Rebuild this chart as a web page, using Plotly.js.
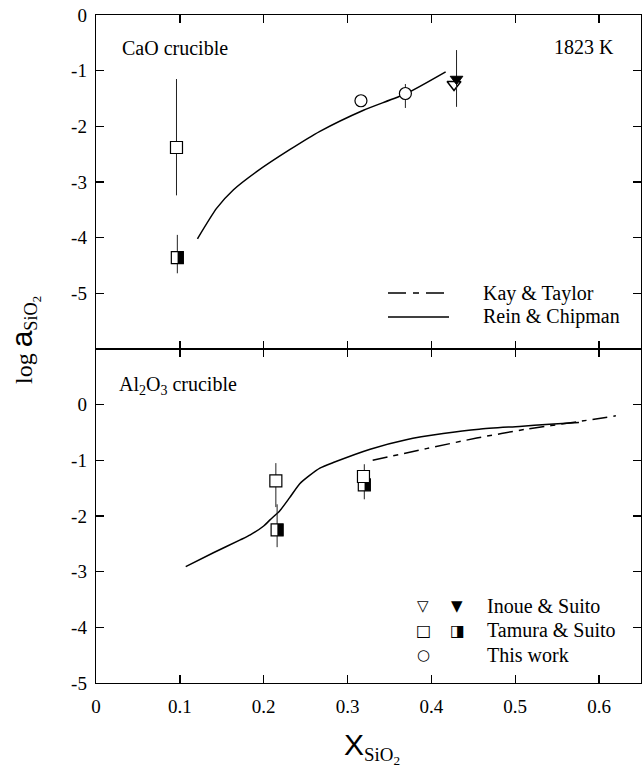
<!DOCTYPE html>
<html>
<head>
<meta charset="utf-8">
<script src="https://cdn.plot.ly/plotly-3.0.1.min.js"></script>
<style>html,body{margin:0;padding:0;background:#fff;}#chart{width:642px;height:769px;}</style>
</head>
<body>
<div id="chart"></div>
<script>
// ---------- data ----------
// Top panel: CaO crucible
const rcTopX = [0.121, 0.144, 0.164, 0.192, 0.231, 0.267, 0.319, 0.370, 0.417];
const rcTopY = [-4.02, -3.47, -3.14, -2.81, -2.42, -2.09, -1.71, -1.41, -1.02];

const tamOpenTopX = [0.096];
const tamOpenTopY = [-2.38];
const tamOpenTopUp = [1.23];
const tamOpenTopDn = [0.86];

const tamHalfTopX = [0.097];
const tamHalfTopY = [-4.36];
const tamHalfTopUp = [0.41];
const tamHalfTopDn = [0.28];

const thisWorkX = [0.316, 0.369];
const thisWorkY = [-1.54, -1.41];
const thisWorkUp = [0, 0.17];
const thisWorkDn = [0, 0.26];

const inoueOpenX = [0.427];
const inoueOpenY = [-1.25];
const inoueHalfX = [0.430];
const inoueHalfY = [-1.15];
const inoueHalfUp = [0.52];
const inoueHalfDn = [0.50];

// Bottom panel: Al2O3 crucible
const rcBotX = [0.107, 0.140, 0.172, 0.184, 0.200, 0.2075, 0.219, 0.231, 0.243, 0.254, 0.267, 0.283, 0.327, 0.370, 0.414, 0.457, 0.505, 0.541, 0.576];
const rcBotY = [-2.91, -2.66, -2.43, -2.34, -2.18, -2.07, -1.91, -1.67, -1.42, -1.28, -1.14, -1.04, -0.80, -0.63, -0.52, -0.44, -0.39, -0.35, -0.32];

const ktX = [0.330, 0.394, 0.454, 0.513, 0.573, 0.620];
const ktY = [-1.00, -0.79, -0.60, -0.44, -0.31, -0.20];

const tamOpenBotX = [0.2145, 0.319];
const tamOpenBotY = [-1.37, -1.29];
const tamOpenBotUp = [0.32, 0];
const tamOpenBotDn = [0.47, 0];

const tamHalfBotX = [0.216, 0.320];
const tamHalfBotY = [-2.25, -1.44];
const tamHalfBotUp = [0.46, 0.37];
const tamHalfBotDn = [0.31, 0.26];

const xTicks = [0, 0.1, 0.2, 0.3, 0.4, 0.5, 0.6];
const xTickText = ['0', '0.1', '0.2', '0.3', '0.4', '0.5', '0.6'];
const yTopTicks = [0, -1, -2, -3, -4, -5];
const yTopText = ['0', '-1', '-2', '-3', '-4', '-5'];
const yBotTicks = [0, -1, -2, -3, -4, -5];
const yBotText = ['0', '-1', '-2', '-3', '-4', '-5'];

// ---------- styling ----------
const SERIF = 'Liberation Serif, Times New Roman, serif';
const SANS = 'Liberation Sans, Arial, sans-serif';
const W = 642, H = 769;
const M = {l: 96, r: 1, t: 15, b: 86};
const plotW = W - M.l - M.r;
const xRange = [0, 0.65];
const halfShift = 3.25 / plotW * (xRange[1] - xRange[0]);  // pixel shift of black half
const SQ = 12;

function errs(up, dn) {
  return {type: 'data', symmetric: false, array: up, arrayminus: dn,
          color: '#222', thickness: 1, width: 0, visible: true};
}
function pts(x, y, xa, ya, marker, err) {
  const t = {x: x, y: y, xaxis: xa, yaxis: ya, mode: 'markers', marker: marker, showlegend: false, cliponaxis: false};
  if (err) t.error_y = err;
  return t;
}
const openSq = {symbol: 'square', size: SQ, color: 'white', line: {color: 'black', width: 1.2}};
const halfSqBlack = {symbol: 'line-ns', size: SQ / 1.4, color: 'black', line: {color: 'black', width: SQ / 2}};

const traces = [
  {x: rcTopX, y: rcTopY, xaxis: 'x', yaxis: 'y', mode: 'lines', line: {color: 'black', width: 1.5, shape: 'spline', smoothing: 0.6}, hoverinfo: 'skip', showlegend: false},
  pts(tamHalfTopX, tamHalfTopY, 'x', 'y', openSq, errs(tamHalfTopUp, tamHalfTopDn)),
  pts(tamOpenTopX, tamOpenTopY, 'x', 'y', openSq, errs(tamOpenTopUp, tamOpenTopDn)),
  pts(thisWorkX, thisWorkY, 'x', 'y', {symbol: 'circle', size: 12, color: 'white', line: {color: 'black', width: 1.2}}, errs(thisWorkUp, thisWorkDn)),
  pts(inoueOpenX, inoueOpenY, 'x', 'y', {symbol: 'triangle-down', size: 12, color: 'white', line: {color: 'black', width: 1.5}}),
  pts(inoueHalfX, inoueHalfY, 'x', 'y', {symbol: 'triangle-down', size: 11, color: 'black', line: {color: 'black', width: 1}}, errs(inoueHalfUp, inoueHalfDn)),
  pts(tamHalfTopX, tamHalfTopY, 'x3', 'y', halfSqBlack),

  {x: rcBotX, y: rcBotY, xaxis: 'x2', yaxis: 'y2', mode: 'lines', line: {color: 'black', width: 1.5, shape: 'spline', smoothing: 0.6}, hoverinfo: 'skip', showlegend: false},
  {x: ktX, y: ktY, xaxis: 'x2', yaxis: 'y2', mode: 'lines', line: {color: 'black', width: 1.5, dash: '15px,6px,5px,6px', shape: 'spline', smoothing: 0.5}, hoverinfo: 'skip', showlegend: false},
  pts(tamHalfBotX, tamHalfBotY, 'x2', 'y2', openSq, errs(tamHalfBotUp, tamHalfBotDn)),
  pts(tamHalfBotX, tamHalfBotY, 'x4', 'y2', halfSqBlack),
  pts(tamOpenBotX, tamOpenBotY, 'x5', 'y2', openSq, errs(tamOpenBotUp, tamOpenBotDn))
];

const axBase = {showline: true, linecolor: 'black', linewidth: 1.3, ticks: 'inside', ticklen: 8,
  tickwidth: 1.3, tickcolor: 'black', mirror: 'ticks', showgrid: false, zeroline: false,
  tickfont: {family: SERIF, size: 19, color: 'black'}, fixedrange: true};
const hiddenX = {visible: false, showgrid: false, zeroline: false, fixedrange: true, domain: [0, 1]};

function py(pixY) { return (H - M.b - pixY) / (H - M.t - M.b); }
function px(pixX) { return (pixX - M.l) / plotW; }

const ann = [];
function txt(t, x, y, xanchor, size, extra) {
  ann.push(Object.assign({text: t, x: x, y: y, xref: 'paper', yref: 'paper', xanchor: xanchor, yanchor: 'middle',
    showarrow: false, font: {family: SERIF, size: size, color: 'black'}}, extra || {}));
}
txt('CaO crucible', px(120), py(48), 'left', 20);
txt('1823 K', px(616), py(47), 'right', 20);
txt('Al<sub>2</sub>O<sub>3</sub> crucible', px(117), py(385), 'left', 20);
// top legend
txt('Kay &amp; Taylor', px(481), py(293), 'left', 20);
txt('Rein &amp; Chipman', px(481), py(317), 'left', 20);
// bottom legend
const GLY = 'DejaVu Sans, sans-serif';
txt('\u25BD', px(423), py(606), 'center', 15, {font: {family: GLY, size: 15, color: 'black'}});
txt('\u25BC', px(457), py(606), 'center', 15, {font: {family: GLY, size: 15, color: 'black'}});
txt('\u25A1', px(423), py(630), 'center', 16, {font: {family: GLY, size: 16, color: 'black'}});
txt('\u25E8', px(457), py(630), 'center', 16, {font: {family: GLY, size: 16, color: 'black'}});
txt('\u25CB', px(423), py(655), 'center', 15, {font: {family: GLY, size: 15, color: 'black'}});
txt('Inoue &amp; Suito', px(485), py(606), 'left', 20);
txt('Tamura &amp; Suito', px(485), py(630), 'left', 20);
txt('This work', px(485), py(655), 'left', 20);
// axis titles
txt('<span style="font-size:24px">log </span><span style="font-family:Liberation Sans, Arial, sans-serif;font-size:30px">a</span><sub>SiO<sub>2</sub></sub>',
    px(24), py(340), 'center', 26, {textangle: -90});
txt('<span style="font-family:Liberation Sans, Arial, sans-serif;font-size:30px">X</span><sub>SiO<sub>2</sub></sub>',
    px(372), py(726), 'center', 27, {yanchor: 'top'});

const layout = {
  width: W, height: H, margin: M,
  paper_bgcolor: 'white', plot_bgcolor: 'rgba(0,0,0,0)',
  font: {family: SERIF, size: 19, color: 'black'},
  showlegend: false,
  xaxis: Object.assign({}, axBase, {domain: [0, 1], range: xRange, anchor: 'y', tickvals: xTicks, showticklabels: false}),
  xaxis2: Object.assign({}, axBase, {domain: [0, 1], range: xRange, anchor: 'y2', tickvals: xTicks, ticktext: xTickText, ticklabelstandoff: 6}),
  xaxis3: Object.assign({}, hiddenX, {range: [xRange[0] - halfShift, xRange[1] - halfShift], anchor: 'y'}),
  xaxis4: Object.assign({}, hiddenX, {range: [xRange[0] - halfShift, xRange[1] - halfShift], anchor: 'y2'}),
  xaxis5: Object.assign({}, hiddenX, {range: xRange, anchor: 'y2'}),
  yaxis: Object.assign({}, axBase, {domain: [0.5, 1], range: [-6, 0], anchor: 'x', tickvals: yTopTicks, ticktext: yTopText, ticklabelstandoff: 4}),
  yaxis2: Object.assign({}, axBase, {domain: [0, 0.5], range: [-5, 1], anchor: 'x2', tickvals: yBotTicks, ticktext: yBotText, ticklabelstandoff: 4}),
  shapes: [
    {type: 'line', xref: 'paper', yref: 'paper', x0: px(388), x1: px(449), y0: py(293), y1: py(293), line: {color: 'black', width: 1.5, dash: '18px,7px,6px,7px'}},
    {type: 'line', xref: 'paper', yref: 'paper', x0: px(388), x1: px(449), y0: py(317), y1: py(317), line: {color: 'black', width: 1.5}}
  ],
  annotations: ann
};

Plotly.newPlot('chart', traces, layout, {staticPlot: true, displayModeBar: false});
</script>
</body>
</html>
